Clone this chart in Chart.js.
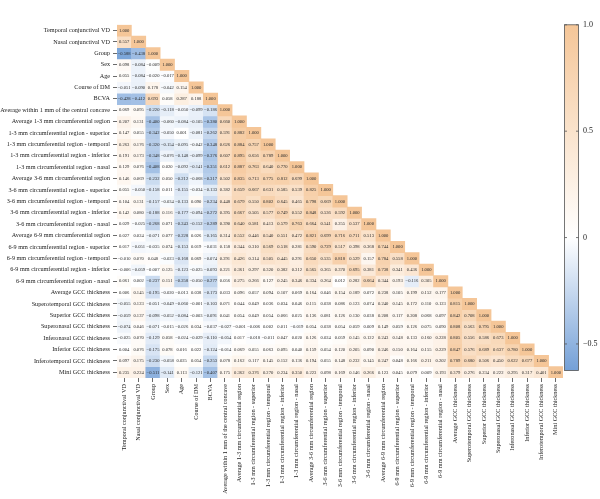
<!DOCTYPE html>
<html lang="en">
<head>
<meta charset="UTF-8">
<title>Correlation matrix</title>
<script src="https://cdn.jsdelivr.net/npm/chart.js"></script>
<style>
  html, body { margin: 0; padding: 0; background: #fff; }
  #wrap { position: relative; width: 600px; height: 499px; }
</style>
</head>
<body>
<div id="wrap"><canvas id="corr"></canvas></div>

<script>
// variables, same order on both axes
const variables = [
  "Temporal conjunctival VD", "Nasal conjunctival VD", "Group", "Sex", "Age", "Course of DM", "BCVA",
  "Average within 1 mm of the central concave",
  "Average 1-3 mm circumferential region",
  "1-3 mm circumferential region - superior", "1-3 mm circumferential region - temporal",
  "1-3 mm circumferential region - inferior", "1-3 mm circumferential region - nasal",
  "Average 3-6 mm circumferential region",
  "3-6 mm circumferential region - superior", "3-6 mm circumferential region - temporal",
  "3-6 mm circumferential region - inferior", "3-6 mm circumferential region - nasal",
  "Average 6-9 mm circumferential region",
  "6-9 mm circumferential region - superior", "6-9 mm circumferential region - temporal",
  "6-9 mm circumferential region - inferior", "6-9 mm circumferential region - nasal",
  "Average GCC thickness", "Superotemporal GCC thickness", "Superior GCC thickness",
  "Superonasal GCC thickness", "Inferonasal GCC thickness", "Inferior GCC thickness",
  "Inferotemporal GCC thickness", "Mini GCC thickness"
];

// lower triangle, row i has i+1 values
const corr = [
  [1.000],
  [0.557, 1.000],
  [-0.588, -0.438, 1.000],
  [0.098, -0.084, -0.009, 1.000],
  [0.055, -0.084, -0.020, -0.017, 1.000],
  [-0.051, -0.090, 0.178, -0.042, 0.154, 1.000],
  [-0.428, -0.412, 0.693, 0.058, 0.287, 0.188, 1.000],
  [0.069, 0.095, -0.220, -0.118, -0.050, -0.099, -0.186, 1.000],
  [0.207, 0.131, -0.400, -0.060, -0.084, -0.105, -0.380, 0.660, 1.000],
  [0.147, 0.055, -0.342, -0.050, 0.001, -0.081, -0.262, 0.591, 0.882, 1.000],
  [0.263, 0.176, -0.320, -0.154, -0.095, -0.042, -0.348, 0.626, 0.884, 0.757, 1.000],
  [0.191, 0.173, -0.348, -0.076, -0.148, -0.099, -0.376, 0.607, 0.895, 0.656, 0.789, 1.000],
  [0.129, 0.076, -0.408, 0.020, -0.092, -0.141, -0.351, 0.612, 0.887, 0.763, 0.640, 0.770, 1.000],
  [0.146, 0.069, -0.232, 0.050, -0.212, -0.068, -0.317, 0.502, 0.835, 0.713, 0.775, 0.812, 0.699, 1.000],
  [0.055, -0.050, -0.158, 0.011, -0.155, -0.034, -0.133, 0.382, 0.659, 0.667, 0.631, 0.585, 0.539, 0.825, 1.000],
  [0.104, 0.131, -0.157, -0.034, -0.133, 0.090, -0.234, 0.448, 0.679, 0.550, 0.802, 0.645, 0.465, 0.798, 0.669, 1.000],
  [0.142, 0.080, -0.188, 0.116, -0.177, -0.094, -0.272, 0.395, 0.667, 0.505, 0.577, 0.749, 0.552, 0.848, 0.536, 0.592, 1.000],
  [0.029, -0.025, -0.268, 0.071, -0.243, -0.152, -0.289, 0.390, 0.640, 0.581, 0.413, 0.579, 0.763, 0.664, 0.541, 0.255, 0.537, 1.000],
  [0.027, 0.024, -0.071, 0.077, -0.228, 0.026, -0.165, 0.314, 0.552, 0.446, 0.540, 0.551, 0.472, 0.821, 0.699, 0.716, 0.711, 0.513, 1.000],
  [0.017, -0.051, -0.035, 0.074, -0.153, 0.019, -0.031, 0.158, 0.344, 0.310, 0.569, 0.518, 0.281, 0.590, 0.729, 0.517, 0.398, 0.368, 0.744, 1.000],
  [-0.010, 0.070, 0.048, -0.023, -0.168, 0.069, -0.074, 0.291, 0.426, 0.314, 0.505, 0.445, 0.291, 0.650, 0.535, 0.818, 0.529, 0.157, 0.784, 0.558, 1.000],
  [-0.006, -0.059, -0.007, 0.125, -0.123, -0.025, -0.093, 0.221, 0.361, 0.297, 0.320, 0.382, 0.312, 0.565, 0.365, 0.370, 0.695, 0.381, 0.738, 0.341, 0.436, 1.000],
  [0.061, 0.002, -0.237, 0.151, -0.258, -0.050, -0.277, 0.056, 0.275, 0.266, 0.127, 0.245, 0.346, 0.334, 0.264, 0.012, 0.282, 0.664, 0.344, 0.193, -0.116, 0.305, 1.000],
  [0.006, 0.145, -0.195, -0.020, -0.013, 0.038, -0.173, 0.033, 0.096, 0.057, 0.094, 0.107, 0.069, 0.164, 0.046, 0.154, 0.189, 0.072, 0.238, 0.105, 0.199, 0.152, 0.177, 1.000],
  [-0.055, 0.123, -0.051, -0.049, -0.060, -0.001, -0.103, 0.071, 0.044, 0.049, 0.036, 0.034, 0.046, 0.115, 0.038, 0.086, 0.123, 0.074, 0.240, 0.145, 0.172, 0.110, 0.123, 0.815, 1.000],
  [-0.059, 0.137, -0.098, -0.052, -0.084, -0.003, -0.091, 0.041, 0.054, 0.049, 0.054, 0.066, 0.025, 0.136, 0.081, 0.126, 0.130, 0.038, 0.208, 0.117, 0.208, 0.068, 0.097, 0.842, 0.708, 1.000],
  [-0.074, 0.046, -0.071, -0.015, -0.026, 0.034, -0.037, -0.027, -0.001, -0.006, 0.002, 0.011, -0.019, 0.054, 0.038, 0.054, 0.059, 0.009, 0.149, 0.059, 0.126, 0.075, 0.090, 0.808, 0.563, 0.795, 1.000],
  [-0.025, 0.070, -0.129, 0.058, -0.024, -0.029, -0.110, -0.054, 0.017, -0.018, -0.011, 0.047, 0.020, 0.126, 0.024, 0.059, 0.145, 0.122, 0.243, 0.148, 0.133, 0.160, 0.228, 0.805, 0.556, 0.586, 0.673, 1.000],
  [0.004, 0.076, -0.175, 0.078, 0.016, 0.022, -0.124, -0.014, 0.069, 0.055, 0.063, 0.095, 0.040, 0.159, 0.054, 0.120, 0.205, 0.090, 0.246, 0.150, 0.164, 0.155, 0.229, 0.847, 0.576, 0.689, 0.637, 0.780, 1.000],
  [0.097, 0.175, -0.230, -0.058, 0.025, 0.054, -0.253, 0.078, 0.162, 0.117, 0.145, 0.152, 0.136, 0.194, 0.055, 0.148, 0.232, 0.145, 0.247, 0.048, 0.166, 0.211, 0.202, 0.789, 0.680, 0.506, 0.450, 0.622, 0.677, 1.000],
  [0.235, 0.224, -0.511, -0.141, 0.113, -0.121, -0.407, 0.175, 0.362, 0.376, 0.270, 0.234, 0.350, 0.223, 0.098, 0.169, 0.146, 0.266, 0.123, 0.045, 0.079, 0.009, 0.193, 0.379, 0.276, 0.234, 0.222, 0.295, 0.317, 0.401, 1.000]
];

const colorbarTicks = [1.0, 0.5, 0, -0.5];
const colorMin = -0.625;
const colorMax = 1.0;

const FONT = '"Liberation Serif", "DejaVu Serif", serif';
const HI = [245, 198, 152];   // orange end
const LO = [116, 160, 215];   // blue end

function mix(c, t) {
  return 'rgb(' + c.map(k => Math.round(255 + (k - 255) * t)).join(',') + ')';
}
function cellColor(v) {
  if (v >= 0) return mix(HI, Math.min(v / colorMax, 1));
  return mix(LO, Math.min(v / colorMin, 1));
}
function fmt(v) {
  return (v < 0 ? '\u2212' : '') + Math.abs(v).toFixed(3);
}

// one dataset per row, floating bars spanning the row band
const datasets = corr.map((row, i) => ({
  label: variables[i],
  data: variables.map((_, j) => j < row.length ? [i + 0.5, i + 1.5] : null),
  backgroundColor: variables.map((_, j) => j < row.length ? cellColor(row[j]) : 'rgba(0,0,0,0)'),
  borderWidth: 0,
  grouped: false,
  barPercentage: 1,
  categoryPercentage: 1
}));

const cellText = {
  id: 'cellText',
  afterDatasetsDraw(chart) {
    const ctx = chart.ctx;
    ctx.save();
    ctx.font = '4.6px ' + FONT;
    ctx.fillStyle = '#2b2b2b';
    ctx.textAlign = 'center';
    ctx.textBaseline = 'middle';
    corr.forEach((row, i) => {
      const meta = chart.getDatasetMeta(i);
      row.forEach((v, j) => {
        const el = meta.data[j];
        ctx.fillText(fmt(v), el.x, (el.y + el.base) / 2);
      });
    });
    ctx.restore();
  }
};

const colorBar = {
  id: 'colorBar',
  afterDraw(chart) {
    const s = chart.scales.cb;
    const ctx = chart.ctx;
    const x0 = chart.chartArea.right + 1.5, w = 14;
    const top = s.getPixelForValue(colorMax), bot = s.getPixelForValue(colorMin);
    const g = ctx.createLinearGradient(0, top, 0, bot);
    g.addColorStop(0, mix(HI, 1));
    g.addColorStop(0.5 * colorMax / (colorMax - colorMin), mix(HI, 0.5));
    g.addColorStop(colorMax / (colorMax - colorMin), '#ffffff');
    g.addColorStop(1, mix(LO, 1));
    ctx.save();
    ctx.fillStyle = g;
    ctx.fillRect(x0, top, w, bot - top);
    ctx.strokeStyle = '#555';
    ctx.lineWidth = 0.8;
    ctx.strokeRect(x0, top, w, bot - top);
    colorbarTicks.forEach(v => {
      const y = s.getPixelForValue(v);
      ctx.beginPath();
      ctx.moveTo(x0, y); ctx.lineTo(x0 + 2.5, y);
      ctx.moveTo(x0 + w, y); ctx.lineTo(x0 + w - 2.5, y);
      ctx.stroke();
    });
    ctx.restore();
  }
};

new Chart(document.getElementById('corr'), {
  type: 'bar',
  data: { labels: variables, datasets: datasets },
  options: {
    responsive: true,
    maintainAspectRatio: false,
    animation: false,
    layout: { padding: { top: 6, left: 0, right: 0, bottom: 0 } },
    plugins: { legend: { display: false }, tooltip: { enabled: false } },
    scales: {
      x: {
        type: 'category',
        offset: true,
        grid: { offset: false, drawOnChartArea: false, drawTicks: true, tickLength: 4, color: '#444', lineWidth: 0.8 },
        border: { display: false },
        ticks: { autoSkip: false, minRotation: 90, maxRotation: 90, padding: 2, color: '#222', font: { family: FONT, size: 6.2 } },
        afterFit: s => { s.height = 121; }
      },
      y: {
        type: 'linear',
        reverse: true,
        min: 0.5,
        max: variables.length + 0.5,
        afterBuildTicks: s => { s.ticks = variables.map((_, i) => ({ value: i + 1 })); },
        grid: { drawOnChartArea: false, drawTicks: true, tickLength: 4, color: '#444', lineWidth: 0.8 },
        border: { display: false },
        ticks: { padding: 3, color: '#222', font: { family: FONT, size: 6.2 }, callback: v => variables[v - 1] },
        afterFit: s => { s.width = 117; }
      },
      cb: {
        type: 'linear',
        position: 'right',
        min: -0.66,
        max: 1,
        afterBuildTicks: s => { s.ticks = colorbarTicks.map(v => ({ value: v })); },
        grid: { display: false, drawTicks: false, tickLength: 0 },
        border: { display: false },
        ticks: {
          padding: 20, color: '#222', font: { family: FONT, size: 8 },
          callback: v => v === 0 ? '0' : (v < 0 ? '\u2212' : '') + Math.abs(v).toFixed(1)
        },
        afterFit: s => { s.width = 37; }
      }
    }
  },
  plugins: [cellText, colorBar]
});
</script>
</body>
</html>
